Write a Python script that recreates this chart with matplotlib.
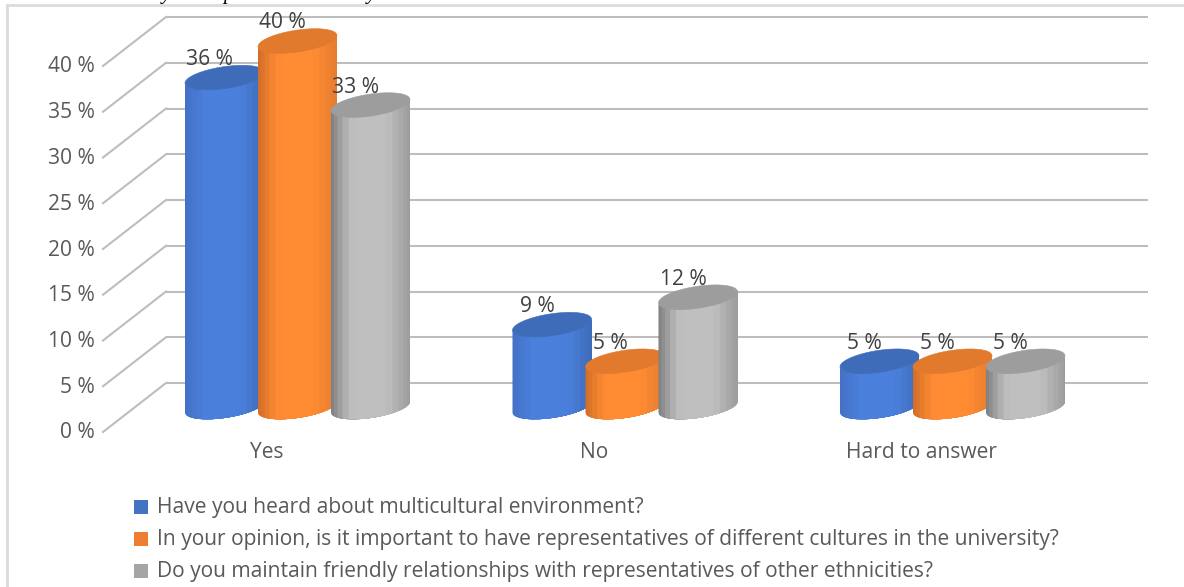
import numpy as np
import matplotlib
matplotlib.use("Agg")
import matplotlib.pyplot as plt
from matplotlib.transforms import Affine2D

categories = ["Yes", "No", "Hard to answer"]
series_names = [
    "Have you heard about multicultural environment?",
    "In your opinion, is it important to have representatives of different cultures in the university?",
    "Do you maintain friendly relationships with representatives of other ethnicities?",
]
heard = [36, 9, 5]
important = [40, 5, 5]
friendly = [33, 12, 5]
y_ticks = [0, 5, 10, 15, 20, 25, 30, 35, 40]

W, H = 1184, 587
PX_PER_CAT = 327.5
PX_PER_VAL = 9.15
X0_PX, Y0_PX = 297.5, 407.0
TEXT = "#595959"
FONT = "Open Sans"
FS = 15.1

fig = plt.figure(figsize=(W / 100, H / 100), dpi=100, facecolor="white")
ax = fig.add_axes([0, 0, 1, 1])
ax.set_xlim(-X0_PX / PX_PER_CAT, (W - X0_PX) / PX_PER_CAT)
ax.set_ylim((Y0_PX - H) / PX_PER_VAL, Y0_PX / PX_PER_VAL)
ax.axis("off")

def px(dx=0.0, dy=0.0):
    """Pixel offset on top of data coordinates (dy positive = downwards)."""
    return ax.transData + Affine2D().translate(dx, -dy)

# frame of the chart area
fig.add_artist(plt.Line2D([7 / W, 7 / W], [0, 1 - 5 / H], color="#d9d9d9", lw=2))
fig.add_artist(plt.Line2D([7 / W, 1], [1 - 5 / H] * 2, color="#dcdcdc", lw=2))

# clipped remnants of the caption above the chart
for xp, ch in [(166, "y"), (228, "p"), (371, "y")]:
    fig.text(xp / W, 1 + 1 / H, ch, family="Liberation Serif", style="italic",
             fontsize=15, color="black", ha="center", va="baseline", clip_on=False)

# back wall grid + side wall diagonals, tick labels
BACK_DY = -24.0
xleft = (166 - X0_PX) / PX_PER_CAT
xright = (1148 - X0_PX) / PX_PER_CAT
xfront = (103 - X0_PX) / PX_PER_CAT
for v in y_ticks:
    ax.plot([xleft, xright], [v, v], color="#bdbdbd", lw=1.5, transform=px(0, BACK_DY), zorder=1,
            solid_capstyle="butt")
    back_y = v + 24.0 / PX_PER_VAL
    front_y = v - 25.0 / PX_PER_VAL
    ax.plot([xleft, xfront], [back_y, front_y], color="#bdbdbd", lw=1.5, zorder=1)
    ax.text(95 / PX_PER_CAT - X0_PX / PX_PER_CAT, v, f"{v} %", transform=px(0, 26),
            ha="right", va="center", fontsize=FS, color=TEXT, family=FONT)

palettes = [
    dict(left="#3f6cb8", mid="#4a7fdc", right="#4371c4", top="#3f6cb8", legend="#4472c4"),
    dict(left="#e57c2e", mid="#ff8c33", right="#cf6d28", top="#e27a2e", legend="#ed7d31"),
    dict(left="#9c9c9c", mid="#bfbfbf", right="#7e7e7e", top="#9d9d9d", legend="#a5a5a5"),
]

def rgb(c):
    return np.array(matplotlib.colors.to_rgb(c))

A, SHEAR, B = 39.5, 5.5, 11.0
STRIPS = 16

def cylinder(cx_px, value, pal, z):
    dxv = 1 / PX_PER_CAT
    dyv = 1 / PX_PER_VAL
    edges = np.linspace(np.pi, 0, STRIPS + 1)
    for i in range(STRIPS):
        # each strip runs on to the right end so no seams appear between strips
        t = np.linspace(edges[i], 0, 40)
        um = 0.5 - np.cos((edges[i] + edges[i + 1]) / 2) / 2
        if um < 0.3:
            col = rgb(pal["left"]) + (rgb(pal["mid"]) - rgb(pal["left"])) * (um / 0.3)
        elif um < 0.72:
            col = rgb(pal["mid"])
        else:
            col = rgb(pal["mid"]) + (rgb(pal["right"]) - rgb(pal["mid"])) * ((um - 0.72) / 0.28) ** 1.3
        xs = cx_px + A * np.cos(t)
        off = -SHEAR * np.cos(t) + B * np.sin(t)   # px, downwards
        X = (xs - X0_PX) * dxv
        bottom = -off * dyv
        top = value - off * dyv
        ax.fill(np.r_[X, X[::-1]], np.r_[bottom, top[::-1]], facecolor=col,
                edgecolor="none", zorder=z)
    t = np.linspace(0, 2 * np.pi, 100)
    X = (cx_px + A * np.cos(t) - X0_PX) * dxv
    Y = value - (-SHEAR * np.cos(t) + B * np.sin(t)) * dyv
    ax.fill(X, Y, facecolor=pal["top"], edgecolor=pal["top"], lw=0.4, zorder=z + 0.1)

SPACING = 73.0
all_series = [heard, important, friendly]
for s, (vals, pal) in enumerate(zip(all_series, palettes)):
    for c, v in enumerate(vals):
        cx = X0_PX + PX_PER_CAT * c + (s - 1) * SPACING
        cylinder(cx, v, pal, 3 + s)
        ax.text((cx - X0_PX) / PX_PER_CAT, v, f"{v} %", transform=px(-15, -18), ha="center",
                va="center", fontsize=FS, color="#404040", family=FONT, zorder=10)

# category labels
for c, name in enumerate(categories):
    ax.text(c, 0, name, transform=px(-31, 45), ha="center", va="center", fontsize=FS,
            color=TEXT, family=FONT)

# legend
for (ypx, name, pal) in zip([507, 539, 571], series_names, palettes):
    fig.patches.append(plt.Rectangle((134 / W, 1 - (ypx + 7) / H), 14 / W, 14 / H,
                                     transform=fig.transFigure, facecolor=pal["legend"],
                                     edgecolor="none"))
    fig.text(157 / W, 1 - ypx / H, name, ha="left", va="center", fontsize=FS, color=TEXT, family=FONT)

fig.savefig("out.png", dpi=100)
